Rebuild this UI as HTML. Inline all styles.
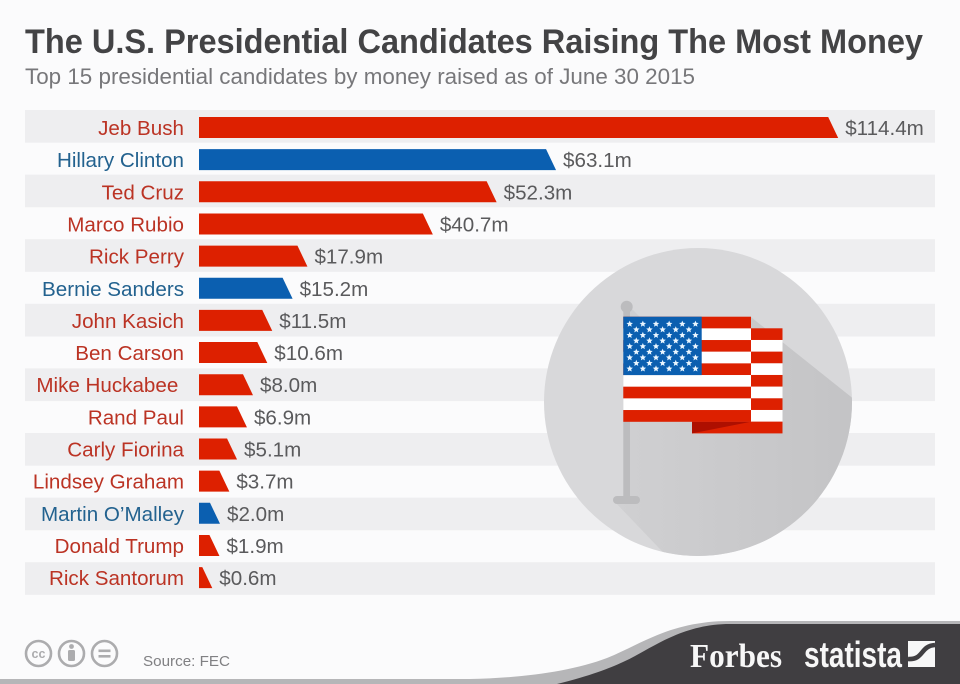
<!DOCTYPE html>
<html><head><meta charset="utf-8"><title>The U.S. Presidential Candidates Raising The Most Money</title>
<style>
html,body{margin:0;padding:0;background:#fbfbfc;}
svg{display:block;font-family:"Liberation Sans",sans-serif;}
</style></head>
<body>
<svg id="chart" xmlns="http://www.w3.org/2000/svg" width="960" height="684" viewBox="0 0 960 684">
<defs>
<clipPath id="circle-clip"><circle cx="698" cy="402" r="154"/></clipPath>
<linearGradient id="shadow-grad" x1="0" y1="0" x2="1" y2="0"><stop offset="0" stop-color="#d0d0d2"/><stop offset="1" stop-color="#c3c3c5"/></linearGradient>
</defs>
<rect x="0" y="0" width="960" height="684" fill="#fbfbfc"/>
<text x="25" y="53" font-size="34" font-weight="700" fill="#434345" textLength="898" lengthAdjust="spacingAndGlyphs">The U.S. Presidential Candidates Raising The Most Money</text>
<text x="25" y="84" font-size="22" fill="#77777a" textLength="670" lengthAdjust="spacingAndGlyphs">Top 15 presidential candidates by money raised as of June 30 2015</text>
<g id="bands"></g>
<g>
<circle cx="698" cy="402" r="154" fill="#d8d8da"/>
<polygon clip-path="url(#circle-clip)" points="626,303 640,317 751,317 860,404 860,570 680,570 613,500 626,500" fill="url(#shadow-grad)"/>
<circle cx="626.7" cy="306.7" r="6" fill="#bcbcbe"/>
<rect x="623.3" y="306" width="6.7" height="192" fill="#bcbcbe"/>
<rect x="613" y="496" width="27" height="8" rx="4" fill="#bcbcbe"/>
<g id="flag"></g>
</g>
<g id="rows"></g>
<g fill="none" stroke="#acacae" stroke-width="2.6">
<circle cx="38.5" cy="653.5" r="12.5"/>
<circle cx="71.5" cy="653.5" r="12.5"/>
<circle cx="104.5" cy="653.5" r="12.5"/>
</g>
<text x="38.5" y="658" font-size="12.5" font-weight="700" fill="#acacae" text-anchor="middle">cc</text>
<circle cx="71.5" cy="646.5" r="2.4" fill="#acacae"/>
<rect x="68" y="650" width="7" height="11" rx="1.5" fill="#acacae"/>
<rect x="98.5" y="649.5" width="12" height="2.6" fill="#acacae"/>
<rect x="98.5" y="655" width="12" height="2.6" fill="#acacae"/>
<text x="143" y="666" font-size="14.5" fill="#808083" textLength="87" lengthAdjust="spacingAndGlyphs">Source: FEC</text>
<path d="M0,684 L0,679 L470,679 C520,678 570,672 607,658 C640,645 670,621 730,621 L960,621 L960,684 Z" fill="#b6b6b8"/>
<path d="M557,684 C590,676 610,668 623,662 C650,650 680,624 730,624 L960,624 L960,684 Z" fill="#403e41"/>
<text x="690" y="667" font-family="'Liberation Serif',serif" font-size="34" font-weight="700" fill="#f7f7f7" textLength="92" lengthAdjust="spacingAndGlyphs">Forbes</text>
<text x="804" y="667" font-size="36" font-weight="700" fill="#f7f7f7" textLength="98" lengthAdjust="spacingAndGlyphs">statista</text>
<rect x="908" y="641" width="27" height="26" fill="#f7f7f7"/>
<path d="M908,659 C924,660 920,646 935,645" fill="none" stroke="#403e41" stroke-width="4.6"/>
</svg>
<script>
const candidates = ["Jeb Bush","Hillary Clinton","Ted Cruz","Marco Rubio","Rick Perry","Bernie Sanders","John Kasich","Ben Carson","Mike Huckabee\u00a0","Rand Paul","Carly Fiorina","Lindsey Graham","Martin O\u2019Malley","Donald Trump","Rick Santorum"];
const raised = [114.4,63.1,52.3,40.7,17.9,15.2,11.5,10.6,8.0,6.9,5.1,3.7,2.0,1.9,0.6];
const parties = ["r","d","r","r","r","d","r","r","r","r","r","r","d","r","r"];

const NS = 'http://www.w3.org/2000/svg';
const barColors = {r:'#dd2000', d:'#0b5fb0'};
const labelColors = {r:'#bb3324', d:'#23628f'};
const X0 = 199, SCALE = 5.5, SLANT = 10, BAND_Y0 = 110, BAND_PITCH = 32.3, ROW_Y0 = 110, ROW_PITCH = 32.15, BAR_TOP = 7, BAR_H = 21;
function xScale(v){ return X0 + v * SCALE; }
function bandY(i){ return BAND_Y0 + i * BAND_PITCH; }
function rowY(i){ return ROW_Y0 + i * ROW_PITCH; }
function make(tag, attrs, parent){
  const el = document.createElementNS(NS, tag);
  for (const k in attrs) el.setAttribute(k, attrs[k]);
  parent.appendChild(el);
  return el;
}
const bands = document.getElementById('bands');
const rows = document.getElementById('rows');
const flag = document.getElementById('flag');

candidates.forEach(function(name, i){
  const y = rowY(i);
  if (i % 2 === 0) {
    const band = make('rect', {x:25, y:bandY(i), width:910, height:BAND_PITCH + 0.4, fill:'#eeeef0'}, bands);
    
    
  }
  const label = make('text', {x:184, y:y + 25, 'font-size':20.6, 'text-anchor':'end', fill:labelColors[parties[i]], style:'white-space:pre'}, rows);
  label.textContent = name;
  
  
  const right = xScale(raised[i]);
  const top = y + BAR_TOP, bottom = top + BAR_H;
  const bar = make('polygon', {points:[X0+','+top, right+','+top, (right+SLANT)+','+bottom, X0+','+bottom].join(' '), fill:barColors[parties[i]]}, rows);
  
  
  const value = make('text', {x:right + SLANT + 7, y:y + 25, 'font-size':20.6, fill:'#5a5a5c'}, rows);
  value.textContent = '$' + raised[i].toFixed(1) + 'm';
  
  
});

/* flag artwork */
const STRIPE = 105 / 9;
for (let s = 0; s < 9; s++) {
  const back = make('rect', {x:751, y:328.3 + s * STRIPE, width:31.5, height:STRIPE + 0.1, fill:s % 2 ? '#ffffff' : '#dd2000'}, flag);
  
  
}
const fold = make('rect', {x:692, y:421.7, width:59, height:11.7, fill:'#dd2000'}, flag);


const foldShade = make('polygon', {points:'692,421.7 692,433.4 751,421.7', fill:'#ae0f00'}, flag);


for (let s = 0; s < 9; s++) {
  const front = make('rect', {x:623.3, y:316.7 + s * STRIPE, width:127.7, height:STRIPE + 0.1, fill:s % 2 ? '#ffffff' : '#dd2000'}, flag);
  
  
}
const canton = make('rect', {x:623.3, y:316.7, width:78.4, height:58.4, fill:'#0b5fb0'}, flag);


function starPoints(cx, cy, r){
  const p = [];
  for (let k = 0; k < 10; k++) {
    const rad = k % 2 ? r * 0.45 : r;
    const a = -Math.PI / 2 + k * Math.PI / 5;
    p.push((cx + rad * Math.cos(a)).toFixed(2) + ',' + (cy + rad * Math.sin(a)).toFixed(2));
  }
  return p.join(' ');
}
for (let r = 0; r < 9; r++) {
  const odd = r % 2 === 1;
  const count = odd ? 5 : 6;
  for (let c = 0; c < count; c++) {
    const star = make('polygon', {points:starPoints(629.7 + (odd ? 6.6 : 0) + c * 13.15, 324 + r * 5.6, 3.4), fill:'#eaf6ff'}, flag);
    
    
  }
}
</script>
</body></html>
